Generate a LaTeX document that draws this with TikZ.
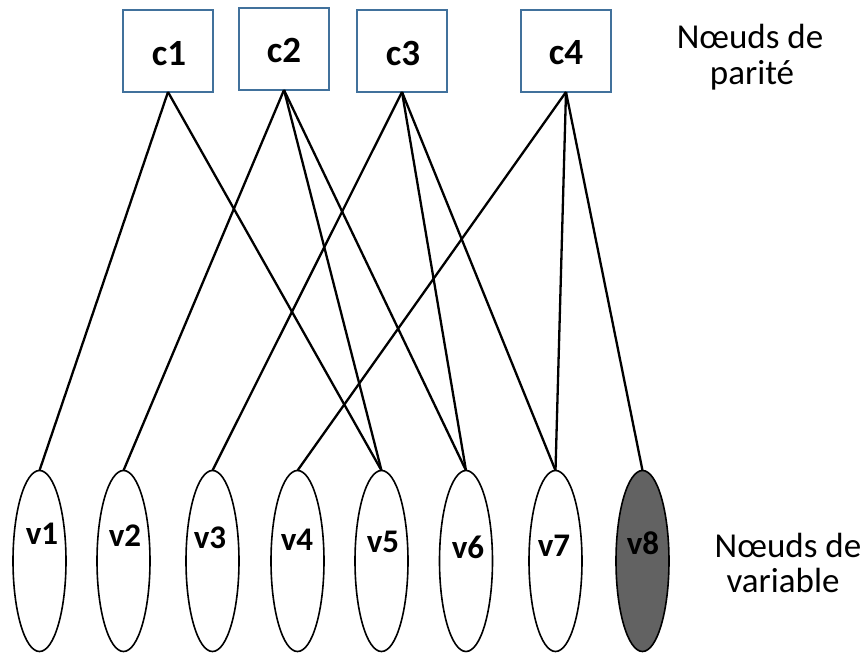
\documentclass[tikz,border=0pt]{standalone}
\usepackage{fontspec}
\setmainfont{Carlito}
\usetikzlibrary{shapes.geometric}
\definecolor{boxblue}{RGB}{65,113,156}
\definecolor{darkfill}{RGB}{98,98,98}
\tikzset{
  checkbox/.style={draw=boxblue, line width=2pt, fill=white, rectangle,
    minimum width=90pt, minimum height=82pt, inner sep=0pt, outer sep=0pt},
  checklabel/.style={font=\fontsize{37}{40}\selectfont\bfseries, inner sep=0pt},
  varnode/.style={draw=black, line width=1.6pt, fill=white, ellipse,
    minimum width=53pt, minimum height=181pt, inner sep=0pt, outer sep=0pt},
  varlabel/.style={font=\fontsize{33}{36}\selectfont\bfseries, inner sep=0pt},
  edge/.style={draw=black, line width=2.3pt},
  caption/.style={font=\fontsize{35}{36}\selectfont, inner sep=0pt, anchor=base}
}
\begin{document}
\begin{tikzpicture}[x=1pt, y=-1pt]
\useasboundingbox (0,0) rectangle (863,655);

% parity check nodes
\node[checkbox] (c1) at (168,51) {};
\node[checkbox] (c2) at (284,49) {};
\node[checkbox] (c3) at (402,51) {};
\node[checkbox] (c4) at (566,51) {};
\node[checklabel] (c1t) at (169,54) {c1};
\node[checklabel] (c2t) at (284,51) {c2};
\node[checklabel] (c3t) at (403,54) {c3};
\node[checklabel] (c4t) at (566,53) {c4};

% variable nodes
\node[varnode] (v1) at (39.5,561) {};
\node[varnode] (v2) at (123.5,561) {};
\node[varnode] (v3) at (212.5,561) {};
\node[varnode] (v4) at (297.5,561) {};
\node[varnode] (v5) at (381.5,561) {};
\node[varnode] (v6) at (466,561) {};
\node[varnode] (v7) at (555.5,561) {};
\node[varnode, fill=darkfill] (v8) at (642.5,561) {};

\node[varlabel] (l1) at (42,534) {v1};
\node[varlabel] (l2) at (125,536) {v2};
\node[varlabel] (l3) at (210,538) {v3};
\node[varlabel] (l4) at (297,540) {v4};
\node[varlabel] (l5) at (383,542) {v5};
\node[varlabel] (l6) at (468,547) {v6};
\node[varlabel] (l7) at (554,546) {v7};
\node[varlabel] (l8) at (643,543) {v8};

% edges of the Tanner graph
\draw[edge] (c1.south) -- (v1.north);
\draw[edge] (c1.south) -- (v5.north);
\draw[edge] (c2.south) -- (v2.north);
\draw[edge] (c2.south) -- (v5.north);
\draw[edge] (c2.south) -- (v6.north);
\draw[edge] (c3.south) -- (v3.north);
\draw[edge] (c3.south) -- (v6.north);
\draw[edge] (c3.south) -- (v7.north);
\draw[edge] (c4.south) -- (v4.north);
\draw[edge] (c4.south) -- (v7.north);
\draw[edge] (c4.south) -- (v8.north);

% captions
\node[caption] (cap1a) at (750,49) {Nœuds de};
\node[caption] (cap1b) at (752,85) {parité};
\node[caption] (cap2a) at (788,557) {Nœuds de};
\node[caption] (cap2b) at (783,592) {variable};
\end{tikzpicture}
\end{document}
